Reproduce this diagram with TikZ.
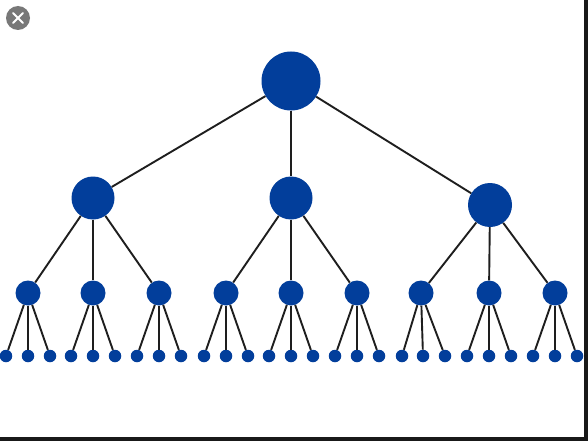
\documentclass[tikz,border=0pt]{standalone}
\definecolor{nodeblue}{RGB}{2,62,155}
\definecolor{btngray}{RGB}{120,120,120}
\definecolor{edgeblk}{RGB}{30,30,30}
\definecolor{framedark}{RGB}{25,25,25}
\begin{document}
\begin{tikzpicture}[x=1pt,y=-1pt,
  dot/.style={circle,fill=nodeblue,inner sep=0pt,minimum size=#1},
  edge/.style={draw=edgeblk,line width=1.9pt}]
\useasboundingbox (0,0) rectangle (588,441);
\fill[white] (0,0) rectangle (588,441);
\fill[framedark] (584,0) rectangle (588,441);
\fill[framedark] (0,437) rectangle (588,441);
% close button
\node[circle,fill=btngray,inner sep=0pt,minimum size=24pt] (btn) at (18,18) {};
\draw[white,line width=1.8pt,line cap=round] (13,13) -- (23,23) (23,13) -- (13,23);
% nodes
\node[dot=59pt] (r) at (291,81) {};
\node[dot=43pt] (a) at (93,198) {};
\node[dot=43pt] (b) at (291,198) {};
\node[dot=44pt] (c) at (490,205) {};
\foreach \n/\x in {a1/28,a2/93,a3/159,b1/226,b2/291,b3/357,c1/421,c2/489,c3/555}
  \node[dot=25pt] (\n) at (\x,293) {};
\foreach \n/\xa/\xb/\xc in {a1/6/28/50,a2/71/93/115,a3/137/159/181,b1/204/226/248,b2/269/291/313,b3/335/357/379,c1/402/423/445,c2/467/489/511,c3/533/555/577}{
  \node[dot=12.5pt] (\n l) at (\xa,356) {};
  \node[dot=12.5pt] (\n m) at (\xb,356) {};
  \node[dot=12.5pt] (\n r) at (\xc,356) {};
}
% edges
\foreach \p/\c in {r/a,r/b,r/c,a/a1,a/a2,a/a3,b/b1,b/b2,b/b3,c/c1,c/c2,c/c3}
  \draw[edge] (\p) -- (\c);
\foreach \n in {a1,a2,a3,b1,b2,b3,c1,c2,c3}{
  \draw[edge] (\n) -- (\n l);
  \draw[edge] (\n) -- (\n m);
  \draw[edge] (\n) -- (\n r);
}
\end{tikzpicture}
\end{document}
